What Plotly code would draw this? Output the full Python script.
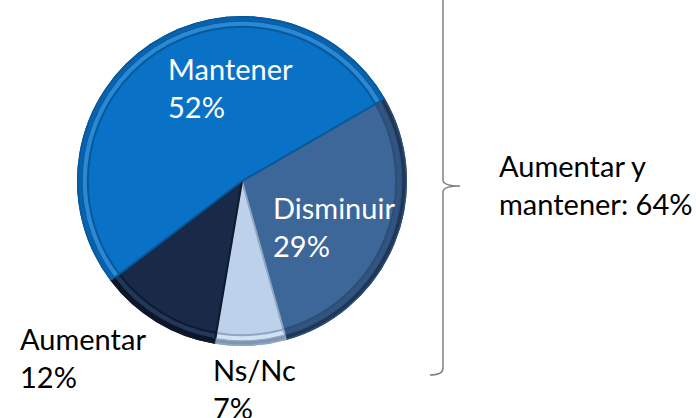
import plotly.graph_objects as go

# ---- data ----
categories = ["Disminuir", "Ns/Nc", "Aumentar", "Mantener"]
values = [29, 7, 12, 52]
bracket_text = "Aumentar y<br>mantener: 64%"

# ---- styles / positions ----
W, H = 696, 418
colors = ["#3D6699", "#BDD1EA", "#182A48", "#0A72C6"]
edge_colors = ["#2C4E7A", "#8FA7C4", "#0E1A30", "#065A9C"]
band_colors = ["#31557F", "#D3E2F3", "#213859", "#2A88D4"]
rim_colors = ["#1F3656", "#8095B0", "#0C1626", "#0862AE"]
text_colors = ["white", "black", "black", "white"]
# left x, cap-top y (pixels)
label_pos = {"Mantener": (166, 58), "Disminuir": (271, 197),
             "Aumentar": (18, 328), "Ns/Nc": (211, 359)}
bracket_pos = (497, 155)
FONT = "Lato"
FS = 29
CAP_OFF = 9

cx, cy, r = 242, 181, 164


def px(x):
    return x / W


def py(y):
    return 1 - y / H


domain = dict(x=[px(cx - r), px(cx + r)], y=[py(cy + r), py(cy - r)])
common = dict(labels=categories, values=values, sort=False, direction="clockwise",
              rotation=60, textinfo="none", domain=domain, showlegend=False)

fig = go.Figure()
fig.add_trace(go.Pie(
    hoverinfo="label+percent",
    marker=dict(colors=colors, line=dict(color=edge_colors, width=2)), **common))
fig.add_trace(go.Pie(
    hole=0.94, hoverinfo="skip",
    marker=dict(colors=band_colors, line=dict(color=edge_colors, width=2)), **common))
fig.add_trace(go.Pie(
    hole=0.975, hoverinfo="skip",
    marker=dict(colors=rim_colors, line=dict(color=edge_colors, width=1)), **common))

total = sum(values)
annotations = []
for cat, val, tc in zip(categories, values, text_colors):
    x, y = label_pos[cat]
    annotations.append(dict(
        text=f"{cat}<br>{round(val / total * 100)}%", x=px(x), y=py(y - CAP_OFF),
        xref="paper", yref="paper", xanchor="left", yanchor="top",
        align="left", showarrow=False, font=dict(family=FONT, size=FS, color=tc)))

bx, by = bracket_pos
annotations.append(dict(
    text=bracket_text, x=px(bx), y=py(by - CAP_OFF), xref="paper", yref="paper",
    xanchor="left", yanchor="top", align="left", showarrow=False,
    font=dict(family=FONT, size=FS, color="black")))

# curly bracket (pixel coords -> paper)
pts = [("M", 443, -10), ("L", 443, 180), ("Q", 443, 186, 460, 186),
       ("Q", 443, 186, 443, 192), ("L", 443, 368), ("Q", 443, 375, 430, 375)]
path = ""
for p in pts:
    cmd = p[0]
    coords = p[1:]
    s = " ".join(f"{px(coords[i]):.5f},{py(coords[i + 1]):.5f}" for i in range(0, len(coords), 2))
    path += f"{cmd} {s} "

fig.update_layout(
    width=W, height=H, margin=dict(l=0, r=0, t=0, b=0),
    paper_bgcolor="white", plot_bgcolor="white",
    annotations=annotations,
    shapes=[dict(type="path", path=path.strip(), xref="paper", yref="paper",
                 line=dict(color="#808080", width=1.5))],
)

fig.write_html("out.html", config={"displayModeBar": False},
               post_script="document.body.style.margin='0';document.body.style.overflow='hidden';")
